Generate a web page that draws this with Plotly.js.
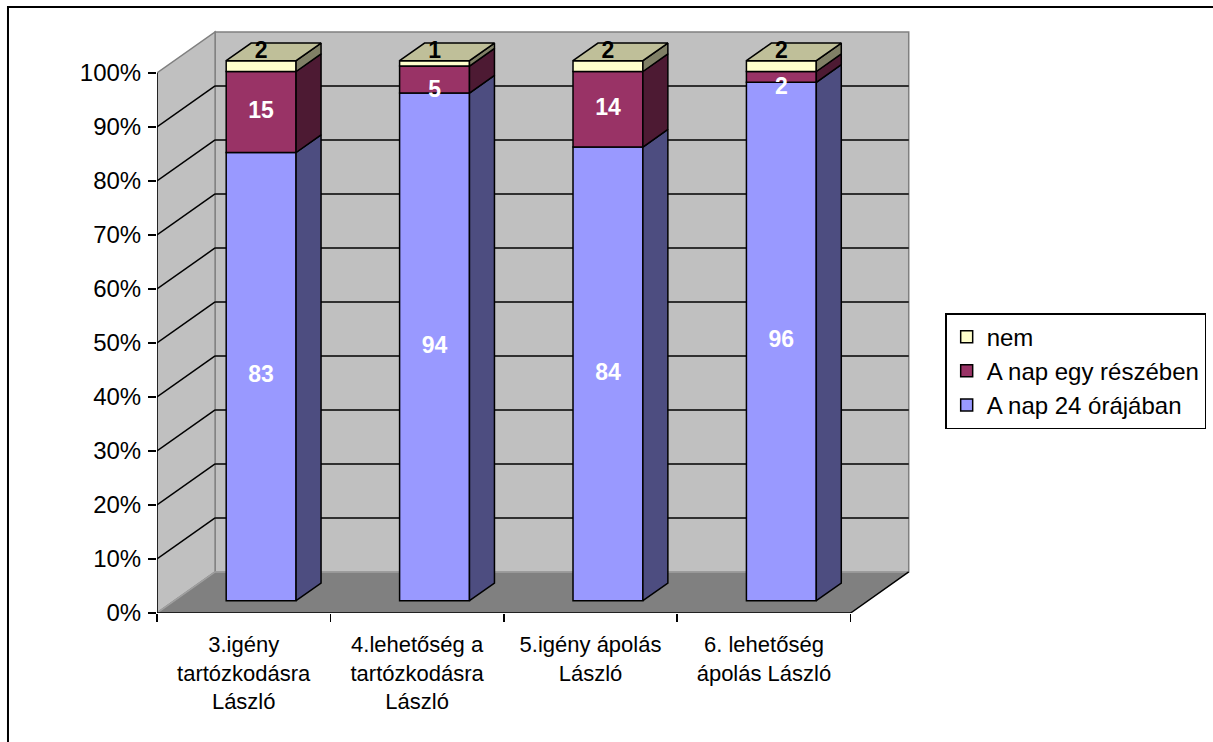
<!DOCTYPE html>
<html>
<head>
<meta charset="utf-8">
<script src="https://cdn.plot.ly/plotly-3.0.1.min.js"></script>
<style>
  html, body { margin: 0; padding: 0; background: #ffffff; }
  #chart { width: 1213px; height: 742px; }
</style>
</head>
<body>
<div id="chart"></div>
<script>
// Category labels (x axis)
const categories = [
  '3.igény<br>tartózkodásra<br>László',
  '4.lehetőség a<br>tartózkodásra<br>László',
  '5.igény ápolás<br>László',
  '6. lehetőség<br>ápolás László'
];

// Series, bottom to top of each stacked column
const seriesNames = ['A nap 24 órájában', 'A nap egy részében', 'nem'];
const allDay  = [83, 94, 84, 96];
const partDay = [15, 5, 14, 2];
const never   = [2, 1, 2, 2];

// Percent axis tick labels
const yTickVals = [0, 10, 20, 30, 40, 50, 60, 70, 80, 90, 100];
const yTickText = ['0%', '10%', '20%', '30%', '40%', '50%', '60%', '70%', '80%', '90%', '100%'];

// Colours: front face, side face, top face, label colour
const frontColors = ['#9999FF', '#993366', '#FFFFCC'];
const sideColors  = ['#4D4D80', '#4D1A33', '#808066'];
const topColors   = ['#7A7ACC', '#7A2952', '#BFBF99'];
const labelColors = ['#FFFFFF', '#FFFFFF', '#000000'];

// Oblique projection of the depth axis, in axis units
const WALL_DX = 0.335;   // categories
const WALL_DY = 7.6;     // percent
const BAR_W = 0.403;
const BAR_FRONT = 0.30;  // depth fraction of bar front face
const BAR_DEEP = 0.43;   // depth fraction taken by a bar

const fdx = WALL_DX * BAR_FRONT, fdy = WALL_DY * BAR_FRONT;
const ddx = WALL_DX * BAR_DEEP,  ddy = WALL_DY * BAR_DEEP;

const FONT = 'Liberation Sans, Arial, sans-serif';
const series = [allDay, partDay, never];
const xs = categories.map((_, i) => i);
const totals = xs.map(i => series.reduce((s, arr) => s + arr[i], 0));
const pct = series.map(arr => arr.map((v, i) => v / totals[i] * 100));

// cumulative bases
const bases = [];
let run = xs.map(() => 0);
pct.forEach((arr, s) => {
  bases.push(run.slice());
  run = run.map((r, i) => r + arr[i]);
});

const traces = [];

// front faces
pct.forEach((arr, s) => {
  traces.push({
    type: 'bar',
    x: xs,
    y: arr,
    base: bases[s].map(b => b + fdy),
    width: BAR_W,
    offset: -BAR_W / 2 + fdx,
    name: seriesNames[s],
    legendrank: 10 - s,
    legendgroup: 'g' + s,
    marker: { color: frontColors[s], line: { color: '#000000', width: 1.5 } },
    hoverinfo: 'skip'
  });
});

// side faces
pct.forEach((arr, s) => {
  const px = [], py = [];
  xs.forEach(i => {
    const xr = i - BAR_W / 2 + fdx + BAR_W;
    const y0 = bases[s][i] + fdy, y1 = y0 + arr[i];
    px.push(xr, xr + ddx, xr + ddx, xr, xr, null);
    py.push(y0, y0 + ddy, y1 + ddy, y1, y0, null);
  });
  traces.push({
    type: 'scatter', mode: 'lines', x: px, y: py, fill: 'toself',
    fillcolor: sideColors[s], line: { color: '#000000', width: 1.5 },
    showlegend: false, hoverinfo: 'skip'
  });
});

// top faces of the top segment
(function () {
  const s = pct.length - 1;
  const px = [], py = [];
  xs.forEach(i => {
    const xl = i - BAR_W / 2 + fdx, xr = xl + BAR_W;
    const yt = bases[s][i] + pct[s][i] + fdy;
    px.push(xl, xr, xr + ddx, xl + ddx, xl, null);
    py.push(yt, yt, yt + ddy, yt + ddy, yt, null);
  });
  traces.push({
    type: 'scatter', mode: 'lines', x: px, y: py, fill: 'toself',
    fillcolor: topColors[s], line: { color: '#000000', width: 1.5 },
    showlegend: false, hoverinfo: 'skip'
  });
})();

// value labels
series.forEach((arr, s) => {
  const isTop = s === series.length - 1;
  traces.push({
    type: 'scatter', mode: 'text',
    x: xs.map(i => i + fdx),
    y: xs.map(i => isTop ? bases[s][i] + pct[s][i] + fdy - 0.6
                         : bases[s][i] + pct[s][i] / 2 + fdy),
    text: arr.map(String),
    textposition: arr.map(v => isTop ? 'top center' : (v >= 8 ? 'middle center' : 'bottom center')),
    textfont: { family: FONT, size: 23, color: labelColors[s], weight: 'bold' },
    cliponaxis: false,
    showlegend: false, hoverinfo: 'skip'
  });
});

// walls, floor and gridlines
const shapes = [];
const L = -0.5, R = categories.length - 0.5;
shapes.push({
  type: 'path', layer: 'below', xref: 'x', yref: 'y',
  path: `M${L},0 L${R},0 L${R + WALL_DX},${WALL_DY} L${L + WALL_DX},${WALL_DY} Z`,
  fillcolor: '#808080', line: { width: 0 }
});
shapes.push({
  type: 'rect', layer: 'below', xref: 'x', yref: 'y',
  x0: L + WALL_DX, x1: R + WALL_DX, y0: WALL_DY, y1: 100 + WALL_DY,
  fillcolor: '#C0C0C0', line: { color: '#808080', width: 1.5 }
});
shapes.push({
  type: 'path', layer: 'below', xref: 'x', yref: 'y',
  path: `M${L},0 L${L},100 L${L + WALL_DX},${100 + WALL_DY} L${L + WALL_DX},${WALL_DY} Z`,
  fillcolor: '#C0C0C0', line: { color: '#808080', width: 1.5 }
});
// floor/wall seams
shapes.push({
  type: 'path', layer: 'below', xref: 'x', yref: 'y',
  path: `M${L},0 L${L + WALL_DX},${WALL_DY} L${R + WALL_DX},${WALL_DY}`,
  line: { color: '#A0A0A0', width: 1.5 }
});
yTickVals.filter(v => v > 0 && v < 100).forEach(v => {
  shapes.push({
    type: 'line', layer: 'below', xref: 'x', yref: 'y',
    x0: L + WALL_DX, x1: R + WALL_DX, y0: v + WALL_DY, y1: v + WALL_DY,
    line: { color: '#000000', width: 1.5 }
  });
  shapes.push({
    type: 'line', layer: 'below', xref: 'x', yref: 'y',
    x0: L, x1: L + WALL_DX, y0: v, y1: v + WALL_DY,
    line: { color: '#000000', width: 1.5 }
  });
});
// front edges: value axis, floor front and floor right side
shapes.push({
  type: 'path', layer: 'below', xref: 'x', yref: 'y',
  path: `M${L},100 L${L},0 L${R},0 L${R + WALL_DX},${WALL_DY}`,
  line: { color: '#000000', width: 1.5 }
});
// chart area border
shapes.push({
  type: 'rect', layer: 'below', xref: 'paper', yref: 'paper',
  x0: -0.1953, x1: 1.6, y0: -0.5, y1: 1.0202,
  line: { color: '#000000', width: 2 }, fillcolor: 'rgba(0,0,0,0)'
});

const layout = {
  width: 1213, height: 742,
  margin: { l: 157, r: 293, t: 19, b: 129, autoexpand: false },
  paper_bgcolor: '#FFFFFF', plot_bgcolor: 'rgba(0,0,0,0)',
  barmode: 'overlay',
  showlegend: true,
  hovermode: false,
  font: { family: FONT, color: '#000000', size: 24 },
  xaxis: {
    range: [-0.5, 3.9],
    tickvals: xs, ticktext: categories,
    ticks: '', showgrid: false, zeroline: false, showline: false,
    tickfont: { family: FONT, size: 22, color: '#000000' },
    ticklabelstandoff: 16,
    minor: {
      tickvals: xs.map(i => i - 0.5).concat([R]),
      ticks: 'outside', ticklen: 8, tickwidth: 1.5, tickcolor: '#000000', showgrid: false
    },
    fixedrange: true
  },
  yaxis: {
    range: [0, 110],
    tickvals: yTickVals, ticktext: yTickText,
    ticks: 'outside', ticklen: 8, tickwidth: 1.5, tickcolor: '#000000',
    showgrid: false, zeroline: false, showline: false,
    tickfont: { family: FONT, size: 24, color: '#000000' },
    ticklabelstandoff: 2,
    fixedrange: true
  },
  legend: {
    x: 1.033, xanchor: 'left', y: 0.505, yanchor: 'top',
    bordercolor: '#000000', borderwidth: 1.5, bgcolor: '#FFFFFF',
    font: { family: FONT, size: 24, color: '#000000' },
    tracegroupgap: 0
  },
  shapes: shapes
};

Plotly.newPlot('chart', traces, layout, { staticPlot: true, displayModeBar: false });
</script>
</body>
</html>
